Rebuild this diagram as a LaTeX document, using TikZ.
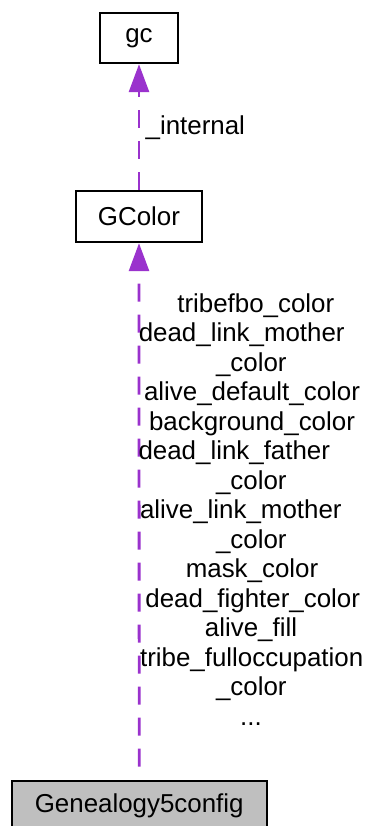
\documentclass[tikz,border=0pt]{standalone}
\usepackage{fontspec}
\setmainfont{Liberation Sans}
\usetikzlibrary{arrows.meta}
\definecolor{edgecol}{HTML}{9A32CD}
\definecolor{boxfill}{HTML}{BFBFBF}
\begin{document}
\begin{tikzpicture}[x=1pt,y=-1pt,
  cls/.style={draw=black,line width=2.4pt,inner sep=0pt,font=\fontsize{25.9}{29.5}\selectfont},
  dep/.style={draw=edgecol,line width=2.8pt,dash pattern=on 18pt off 13pt,
    -{Triangle[width=20pt,length=28pt]}},
  lbl/.style={inner sep=0pt,anchor=base,font=\fontsize{25.9}{29.5}\selectfont}]
\clip (0,0) rectangle (367,826);
\useasboundingbox (0,0) rectangle (367,826);
\fill[white] (0,0) rectangle (367,826);
\node[cls,minimum width=78pt,minimum height=50pt] (gc) at (139,38) {gc};
\node[cls,minimum width=126pt,minimum height=51pt] (gcolor) at (139,216.5) {GColor};
\node[cls,fill=boxfill,minimum width=255pt,minimum height=50pt] (gen) at (139.2,805.7) {Genealogy5config};
\draw[dep] (gcolor.north) -- (gc.south);
\draw[dep,dash phase=18pt] (gen.north) -- (gcolor.south);
\node[lbl] (l1) at (195.3,135) {\_internal};
\foreach \cx/\txt [count=\i from 0] in {
  255.8/tribefbo\_color,
  241.7/dead\_link\_mother,
  251.3/\_color,
  252/alive\_default\_color,
  252/background\_color,
  234.3/dead\_link\_father,
  251.3/\_color,
  240.8/alive\_link\_mother,
  251.3/\_color,
  252/mask\_color,
  252.7/dead\_fighter\_color,
  251/alive\_fill,
  251.7/tribe\_fulloccupation,
  251.3/\_color}
  \node[lbl] (l2-\i) at (\cx,312+29.5*\i) {\txt};
\node[lbl] (l2-14) at (251,725) {...};
\end{tikzpicture}
\end{document}
